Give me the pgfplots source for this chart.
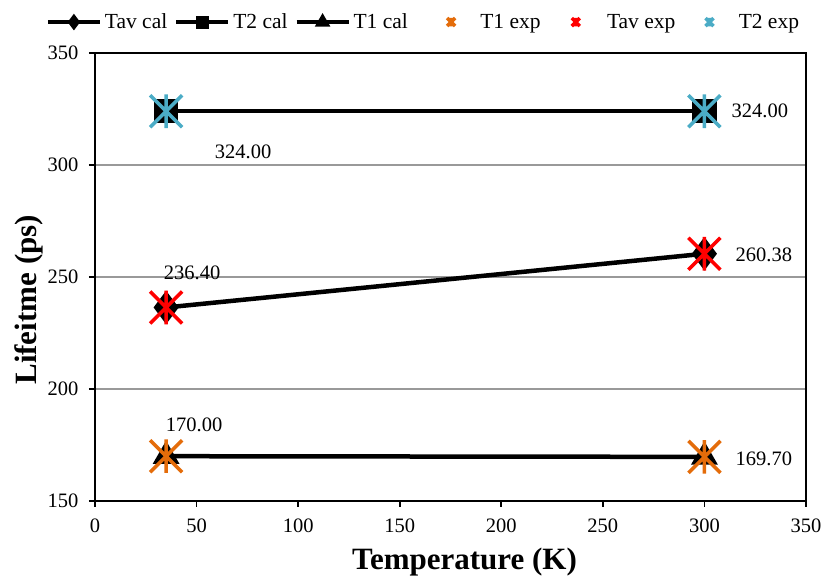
\documentclass[border=0pt]{standalone}
\usepackage{fontspec}
\setmainfont{Liberation Serif}
\usepackage{pgfplots}
\pgfplotsset{compat=1.18}
\definecolor{torange}{RGB}{228,108,10}
\definecolor{tblue}{RGB}{75,172,198}
\definecolor{tred}{RGB}{255,0,0}
\pgfdeclareplotmark{xbar}{%
 \pgfpathmoveto{\pgfqpoint{-\pgfplotmarksize}{-\pgfplotmarksize}}%
 \pgfpathlineto{\pgfqpoint{\pgfplotmarksize}{\pgfplotmarksize}}%
 \pgfpathmoveto{\pgfqpoint{-\pgfplotmarksize}{\pgfplotmarksize}}%
 \pgfpathlineto{\pgfqpoint{\pgfplotmarksize}{-\pgfplotmarksize}}%
 \pgfpathmoveto{\pgfqpoint{0pt}{-1.05\pgfplotmarksize}}%
 \pgfpathlineto{\pgfqpoint{0pt}{1.05\pgfplotmarksize}}%
 \pgfusepathqstroke}
\begin{document}
\begin{tikzpicture}
\begin{axis}[
  at={(0,0)}, anchor=south west,
  scale only axis, width=711pt, height=448pt,
  xmin=0, xmax=350, ymin=150, ymax=350,
  xtick={0,50,...,350}, ytick={150,200,...,350},
  xtick pos=bottom, ytick pos=left,
  tick align=outside, major tick length=6pt,
  axis line style={line width=1.6pt},
  tick style={black, line width=1.6pt},
  ymajorgrids, grid style={draw=black!40, line width=1.6pt},
  tick label style={font=\fontsize{20.5}{24}\selectfont},
  xticklabel style={yshift=-8pt},
  yticklabel style={xshift=-7pt},
  /pgf/number format/assume math mode=true,
  xlabel={Temperature (K)}, ylabel={Lifeitme (ps)},
  label style={font=\bfseries\fontsize{31}{35}\selectfont},
  xlabel style={xshift=14pt, yshift=-9pt},
  ylabel style={at={(ticklabel cs:0.449)}, yshift=-2pt},
  clip=false,
  legend columns=6,
  legend style={at={(0.4606,1.069)}, anchor=center, draw=none,
    font=\fontsize{21.5}{24}\selectfont,
    nodes={inner sep=0pt},
    /tikz/every odd column/.append style={column sep=3pt},
    /tikz/every even column/.append style={column sep=7pt}},
]
% calculated
\addplot[black, line width=4.5pt, mark=diamond*, mark size=13pt,
  legend image code/.code={\draw[line width=4pt, mark size=5pt, mark repeat=2, mark phase=2] plot coordinates {(0pt,0pt)(26pt,0pt)(52pt,0pt)};}]
  coordinates {(35,236.40) (300,260.38)};
\addlegendentry{Tav cal}
\addplot[black, line width=4.5pt, mark=square*, mark size=10pt,
  legend image code/.code={\draw[line width=4pt, mark size=4.5pt, mark repeat=2, mark phase=2] plot coordinates {(0pt,0pt)(26pt,0pt)(52pt,0pt)};}]
  coordinates {(35,324.00) (300,324.00)};
\addlegendentry{T2 cal}
\addplot[black, line width=4.5pt, mark=triangle*, mark size=11pt,
  legend image code/.code={\draw[line width=4pt, mark size=5pt, mark repeat=2, mark phase=2] plot coordinates {(0pt,0pt)(26pt,0pt)(52pt,0pt)};}]
  coordinates {(35,170.00) (300,169.70)};
\addlegendentry{T1 cal}
% experimental
\addplot[only marks, mark=xbar, mark size=16pt, mark options={draw=torange, line width=3.5pt},
  legend image code/.code={\path (0pt,0pt) (62pt,0pt); \draw[mark size=4pt, line width=3pt, draw=torange] plot coordinates {(36pt,0pt)};}]
  coordinates {(35,170.00) (300,169.70)};
\addlegendentry{T1 exp}
\addplot[only marks, mark=xbar, mark size=16pt, mark options={draw=tred, line width=3.5pt},
  legend image code/.code={\path (0pt,0pt) (56pt,0pt); \draw[mark size=4pt, line width=3pt, draw=tred] plot coordinates {(28pt,0pt)};}]
  coordinates {(35,236.40) (300,260.38)};
\addlegendentry{Tav exp}
\addplot[only marks, mark=xbar, mark size=16pt, mark options={draw=tblue, line width=3.5pt},
  legend image code/.code={\path (0pt,0pt) (53pt,0pt); \draw[mark size=4pt, line width=3pt, draw=tblue] plot coordinates {(27pt,0pt)};}]
  coordinates {(35,324.00) (300,324.00)};
\addlegendentry{T2 exp}
% data labels
\begin{scope}[every node/.style={font=\fontsize{20.5}{24}\selectfont, inner sep=0pt}]
\node[anchor=west] at (axis cs:300,324.00) [xshift=27pt] {324.00};
\node at (axis cs:35,324.00) [xshift=77pt, yshift=-41pt] {324.00};
\node at (axis cs:35,236.40) [xshift=26pt, yshift=35pt] {236.40};
\node[anchor=west] at (axis cs:300,260.38) [xshift=31pt, yshift=-1pt] {260.38};
\node at (axis cs:35,170.00) [xshift=28pt, yshift=31pt] {170.00};
\node[anchor=west] at (axis cs:300,169.70) [xshift=31pt, yshift=-2pt] {169.70};
\end{scope}
\end{axis}
\pgfresetboundingbox
\useasboundingbox (-95pt,-76pt) rectangle (727pt,501pt);
\end{tikzpicture}
\end{document}
